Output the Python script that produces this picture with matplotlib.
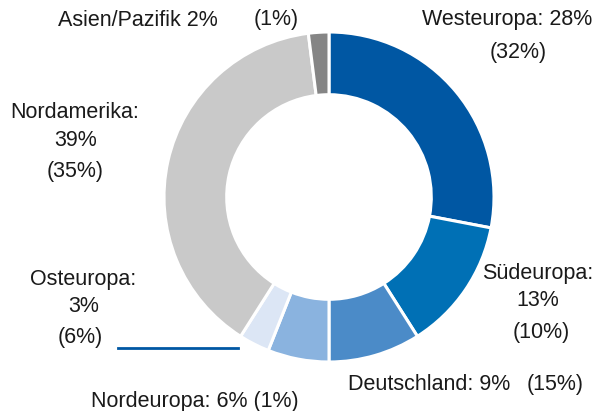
import matplotlib
matplotlib.use("Agg")
import matplotlib.pyplot as plt
from matplotlib.lines import Line2D

plt.rcParams['font.family'] = ['Liberation Sans', 'DejaVu Sans']

regions = ["Westeuropa", "Südeuropa", "Deutschland", "Nordeuropa", "Osteuropa", "Nordamerika", "Asien/Pazifik"]
shares = [28, 13, 9, 6, 3, 39, 2]
prev_shares = [32, 10, 15, 1, 6, 35, 1]
colors = ["#0057A3", "#0070B5", "#4B8BC8", "#8AB3DF", "#DCE6F5", "#C9C9C9", "#858585"]

W, H = 594, 411
fig = plt.figure(figsize=(W / 100, H / 100), dpi=100)

cx, cy, r = 329, 197, 165
ax = fig.add_axes([(cx - r) / W, (H - cy - r) / H, 2 * r / W, 2 * r / H])
ax.pie(shares, colors=colors, startangle=90, counterclock=False, radius=1,
       wedgeprops=dict(width=0.38, edgecolor="white", linewidth=2.2))
ax.set_xlim(-1, 1)
ax.set_ylim(-1, 1)
ax.set_aspect("equal")
ax.axis("off")

fs = 15.5
tc = "#1a1a1a"

def t(x, y, s, ha="center"):
    fig.text(x / W, 1 - y / H, s, ha=ha, va="center", fontsize=fs, color=tc)

# Westeuropa
t(507, 20, f"{regions[0]}: {shares[0]}%")
t(518, 52, f"({prev_shares[0]}%)")
# Asien/Pazifik
t(138, 20, f"{regions[6]} {shares[6]}%")
t(276, 20, f"({prev_shares[6]}%)")
# Nordamerika
t(75, 113, f"{regions[5]}:")
t(76, 140, f"{shares[5]}%")
t(75, 172, f"({prev_shares[5]}%)")
# Osteuropa
t(83, 280, f"{regions[4]}:")
t(84, 306, f"{shares[4]}%")
t(80, 337, f"({prev_shares[4]}%)")
# Südeuropa
t(538, 273, f"{regions[1]}:")
t(538, 300, f"{shares[1]}%")
t(541, 332, f"({prev_shares[1]}%)")
# Deutschland
t(429, 384, f"{regions[2]}: {shares[2]}%")
t(555, 384, f"({prev_shares[2]}%)")
# Nordeuropa
t(195, 401, f"{regions[3]}: {shares[3]}% ({prev_shares[3]}%)")

fig.add_artist(Line2D([118 / W, 238 / W], [1 - 348 / H, 1 - 348 / H],
                      color="#0057A3", linewidth=2))

fig.savefig("out.png", dpi=100)
